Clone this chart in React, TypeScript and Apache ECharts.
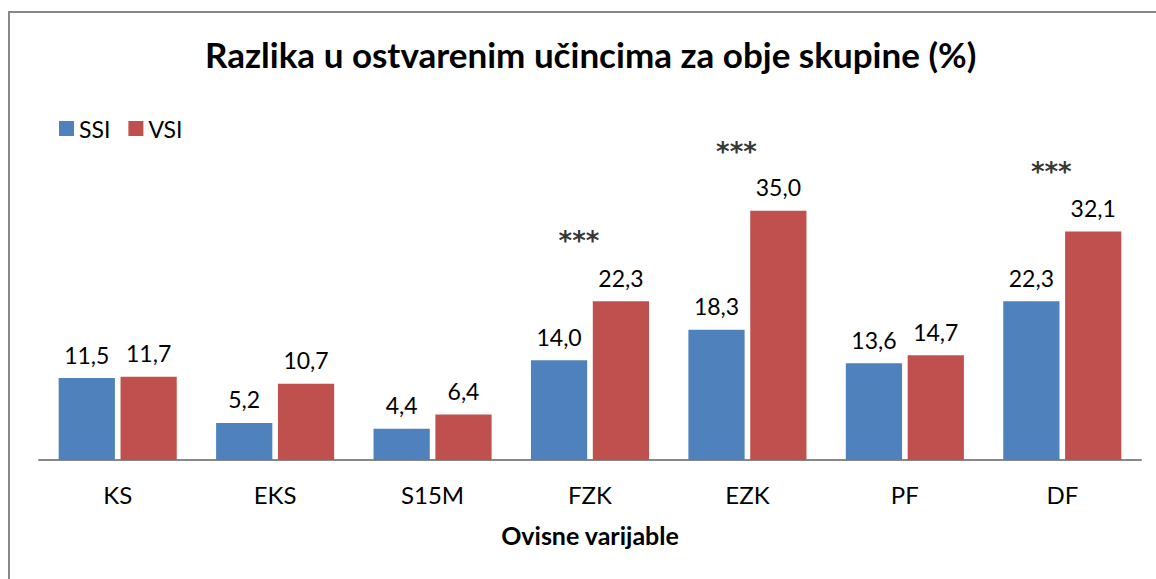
import React, { useEffect, useRef } from "react";
import * as echarts from "echarts";

const categories = ["KS", "EKS", "S15M", "FZK", "EZK", "PF", "DF"];
const ssiValues = [11.5, 5.2, 4.4, 14.0, 18.3, 13.6, 22.3];
const vsiValues = [11.7, 10.7, 6.4, 22.3, 35.0, 14.7, 32.1];
const starCategories = ["FZK", "EZK", "DF"];
const starLevels = [31.3, 43.8, 41.0];
const seriesNames = ["SSI", "VSI"];

const FONT = "Lato, 'Open Sans', sans-serif";

const fmt = (v: number) => v.toFixed(1).replace(".", ",");

export default function App() {
  const ref = useRef<HTMLDivElement>(null);
  useEffect(() => {
    if (!ref.current) return;
    const chart = echarts.init(ref.current, undefined, { renderer: "svg" });
    const barLabel = {
      show: true,
      position: "top",
      distance: 12,
      fontFamily: FONT,
      fontSize: 23,
      color: "#000",
      formatter: (p: any) => fmt(p.value),
    };
    chart.setOption({
      animation: false,
      backgroundColor: "#ffffff",
      textStyle: { fontFamily: FONT },
      title: {
        text: "Razlika u ostvarenim učincima za obje skupine (%)",
        left: 205,
        top: 36,
        padding: 0,
        textStyle: { fontFamily: FONT, fontSize: 35, fontWeight: "bold", color: "#000" },
      },
      legend: {
        data: seriesNames,
        left: 59,
        top: 117,
        padding: 0,
        icon: "rect",
        itemWidth: 15,
        itemHeight: 15,
        itemGap: 18,
        textStyle: { fontFamily: FONT, fontSize: 23, color: "#000" },
      },
      grid: { left: 39, right: 15, top: 104, bottom: 119, containLabel: false },
      xAxis: {
        type: "category",
        data: categories,
        axisLine: { show: true, lineStyle: { color: "#888", width: 2 } },
        axisTick: { show: false },
        axisLabel: { fontFamily: FONT, fontSize: 24, color: "#000", margin: 22 },
        name: "Ovisne varijable",
        nameLocation: "middle",
        nameGap: 62,
        nameTextStyle: { fontFamily: FONT, fontSize: 25, fontWeight: "bold", color: "#000" },
      },
      yAxis: {
        type: "value",
        min: 0,
        max: 50,
        show: false,
        splitLine: { show: false },
      },
      series: [
        {
          name: seriesNames[0],
          type: "bar",
          data: ssiValues,
          barGap: "10%",
          barCategoryGap: "25%",
          itemStyle: { color: "#4F81BD" },
          label: barLabel,
        },
        {
          name: seriesNames[1],
          type: "bar",
          data: vsiValues,
          itemStyle: { color: "#C0504D" },
          label: barLabel,
        },
        {
          name: "stars",
          type: "scatter",
          data: starCategories.map((c, i) => [c, starLevels[i]]),
          symbolSize: 0,
          clip: false,
          silent: true,
          label: {
            show: true,
            position: "inside",
            offset: [-11, 4],
            formatter: "***",
            fontFamily: "'DejaVu Sans', sans-serif",
            fontSize: 26,
            fontWeight: "bold",
            color: "#000",
          },
        },
      ],
      graphic: [
        {
          type: "rect",
          shape: { x: 9, y: 12, width: 1300, height: 800 },
          style: { fill: "none", stroke: "#888", lineWidth: 2 },
          silent: true,
        },
      ],
    });
    return () => chart.dispose();
  }, []);
  return (
    <div
      ref={ref}
      style={{ position: "absolute", left: 0, top: 0, width: 1156, height: 579 }}
    />
  );
}
